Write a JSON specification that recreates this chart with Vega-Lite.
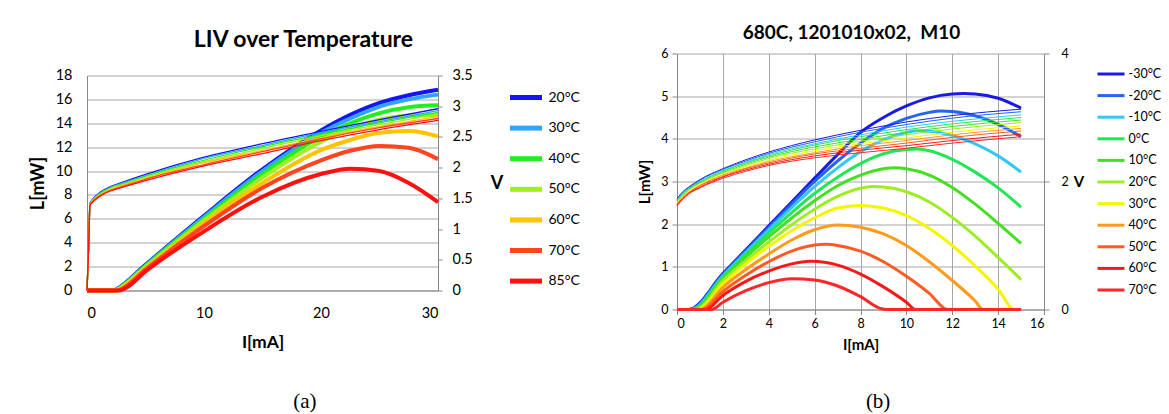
{
  "$schema": "https://vega.github.io/schema/vega-lite/v6.json",
  "background": "white",
  "padding": {"left": 29, "top": 23.5, "right": 0, "bottom": 0},
  "config": {
    "font": "Lato",
    "view": {"stroke": null},
    "axis": {"labelColor": "#000000", "titleColor": "#000000", "domainColor": "#868686", "tickColor": "#868686", "gridColor": "#A6A6A6", "labelFont": "Lato", "titleFont": "Lato"},
    "title": {"color": "#000000"}
  },
  "datasets": {
    "aL": [
      {"T":"20°C","I":0,"y":0},{"T":"20°C","I":2.3,"y":0},{"T":"20°C","I":2.6,"y":0.15},{"T":"20°C","I":5,"y":2.15},{"T":"20°C","I":10,"y":6.25},{"T":"20°C","I":15,"y":10.15},{"T":"20°C","I":20,"y":13.4},{"T":"20°C","I":22.5,"y":14.7},{"T":"20°C","I":25,"y":15.7},{"T":"20°C","I":27.5,"y":16.35},{"T":"20°C","I":30,"y":16.8},
      {"T":"30°C","I":0,"y":0},{"T":"30°C","I":2.35,"y":0},{"T":"30°C","I":2.65,"y":0.15},{"T":"30°C","I":5,"y":2.1},{"T":"30°C","I":10,"y":6.15},{"T":"30°C","I":15,"y":10.0},{"T":"30°C","I":20,"y":13.2},{"T":"30°C","I":22.5,"y":14.4},{"T":"30°C","I":25,"y":15.4},{"T":"30°C","I":27.5,"y":16.0},{"T":"30°C","I":30,"y":16.4},
      {"T":"40°C","I":0,"y":0},{"T":"40°C","I":2.4,"y":0},{"T":"40°C","I":2.7,"y":0.15},{"T":"40°C","I":5,"y":2.05},{"T":"40°C","I":10,"y":6.0},{"T":"40°C","I":15,"y":9.75},{"T":"40°C","I":20,"y":12.9},{"T":"40°C","I":22.5,"y":14.0},{"T":"40°C","I":25,"y":14.85},{"T":"40°C","I":27.5,"y":15.35},{"T":"40°C","I":30,"y":15.5},
      {"T":"50°C","I":0,"y":0},{"T":"50°C","I":2.45,"y":0},{"T":"50°C","I":2.75,"y":0.15},{"T":"50°C","I":5,"y":1.95},{"T":"50°C","I":10,"y":5.85},{"T":"50°C","I":15,"y":9.45},{"T":"50°C","I":20,"y":12.45},{"T":"50°C","I":22.5,"y":13.55},{"T":"50°C","I":25,"y":14.3},{"T":"50°C","I":27.5,"y":14.65},{"T":"50°C","I":30,"y":14.7},
      {"T":"60°C","I":0,"y":0},{"T":"60°C","I":2.5,"y":0},{"T":"60°C","I":2.85,"y":0.15},{"T":"60°C","I":5,"y":1.85},{"T":"60°C","I":10,"y":5.65},{"T":"60°C","I":15,"y":9.0},{"T":"60°C","I":20,"y":11.75},{"T":"60°C","I":22.5,"y":12.6},{"T":"60°C","I":25,"y":13.2},{"T":"60°C","I":27.5,"y":13.35},{"T":"60°C","I":30,"y":12.9},
      {"T":"70°C","I":0,"y":0},{"T":"70°C","I":2.6,"y":0},{"T":"70°C","I":3.0,"y":0.15},{"T":"70°C","I":5,"y":1.75},{"T":"70°C","I":10,"y":5.4},{"T":"70°C","I":15,"y":8.6},{"T":"70°C","I":20,"y":10.9},{"T":"70°C","I":22.5,"y":11.7},{"T":"70°C","I":25,"y":12.1},{"T":"70°C","I":27.5,"y":11.95},{"T":"70°C","I":30,"y":11.0},
      {"T":"85°C","I":0,"y":0},{"T":"85°C","I":2.7,"y":0},{"T":"85°C","I":3.2,"y":0.15},{"T":"85°C","I":5,"y":1.6},{"T":"85°C","I":10,"y":4.95},{"T":"85°C","I":15,"y":7.85},{"T":"85°C","I":20,"y":9.75},{"T":"85°C","I":22.5,"y":10.2},{"T":"85°C","I":25,"y":10.0},{"T":"85°C","I":27.5,"y":9.0},{"T":"85°C","I":30,"y":7.4}
    ],
    "aV": [
      {"T":"20°C","I":0,"y":0},{"T":"20°C","I":0.15,"y":0.75},{"T":"20°C","I":0.25,"y":1.42},{"T":"20°C","I":0.5,"y":1.49},{"T":"20°C","I":1,"y":1.58},{"T":"20°C","I":2,"y":1.69},{"T":"20°C","I":3,"y":1.76},{"T":"20°C","I":5,"y":1.89},{"T":"20°C","I":10,"y":2.17},{"T":"20°C","I":15,"y":2.39},{"T":"20°C","I":20,"y":2.59},{"T":"20°C","I":25,"y":2.78},{"T":"20°C","I":30,"y":2.96},
      {"T":"30°C","I":0,"y":0},{"T":"30°C","I":0.15,"y":0.75},{"T":"30°C","I":0.25,"y":1.41},{"T":"30°C","I":0.5,"y":1.48},{"T":"30°C","I":1,"y":1.57},{"T":"30°C","I":2,"y":1.68},{"T":"30°C","I":3,"y":1.75},{"T":"30°C","I":5,"y":1.87},{"T":"30°C","I":10,"y":2.15},{"T":"30°C","I":15,"y":2.36},{"T":"30°C","I":20,"y":2.57},{"T":"30°C","I":25,"y":2.75},{"T":"30°C","I":30,"y":2.93},
      {"T":"40°C","I":0,"y":0},{"T":"40°C","I":0.15,"y":0.75},{"T":"40°C","I":0.25,"y":1.41},{"T":"40°C","I":0.5,"y":1.47},{"T":"40°C","I":1,"y":1.56},{"T":"40°C","I":2,"y":1.67},{"T":"40°C","I":3,"y":1.73},{"T":"40°C","I":5,"y":1.86},{"T":"40°C","I":10,"y":2.12},{"T":"40°C","I":15,"y":2.34},{"T":"40°C","I":20,"y":2.54},{"T":"40°C","I":25,"y":2.73},{"T":"40°C","I":30,"y":2.90},
      {"T":"50°C","I":0,"y":0},{"T":"50°C","I":0.15,"y":0.75},{"T":"50°C","I":0.25,"y":1.40},{"T":"50°C","I":0.5,"y":1.47},{"T":"50°C","I":1,"y":1.55},{"T":"50°C","I":2,"y":1.66},{"T":"50°C","I":3,"y":1.72},{"T":"50°C","I":5,"y":1.84},{"T":"50°C","I":10,"y":2.10},{"T":"50°C","I":15,"y":2.31},{"T":"50°C","I":20,"y":2.52},{"T":"50°C","I":25,"y":2.70},{"T":"50°C","I":30,"y":2.87},
      {"T":"60°C","I":0,"y":0},{"T":"60°C","I":0.15,"y":0.75},{"T":"60°C","I":0.25,"y":1.39},{"T":"60°C","I":0.5,"y":1.46},{"T":"60°C","I":1,"y":1.54},{"T":"60°C","I":2,"y":1.64},{"T":"60°C","I":3,"y":1.71},{"T":"60°C","I":5,"y":1.82},{"T":"60°C","I":10,"y":2.08},{"T":"60°C","I":15,"y":2.28},{"T":"60°C","I":20,"y":2.49},{"T":"60°C","I":25,"y":2.67},{"T":"60°C","I":30,"y":2.83},
      {"T":"70°C","I":0,"y":0},{"T":"70°C","I":0.15,"y":0.75},{"T":"70°C","I":0.25,"y":1.39},{"T":"70°C","I":0.5,"y":1.45},{"T":"70°C","I":1,"y":1.53},{"T":"70°C","I":2,"y":1.63},{"T":"70°C","I":3,"y":1.69},{"T":"70°C","I":5,"y":1.81},{"T":"70°C","I":10,"y":2.05},{"T":"70°C","I":15,"y":2.26},{"T":"70°C","I":20,"y":2.47},{"T":"70°C","I":25,"y":2.65},{"T":"70°C","I":30,"y":2.80},
      {"T":"85°C","I":0,"y":0},{"T":"85°C","I":0.15,"y":0.75},{"T":"85°C","I":0.25,"y":1.38},{"T":"85°C","I":0.5,"y":1.44},{"T":"85°C","I":1,"y":1.52},{"T":"85°C","I":2,"y":1.62},{"T":"85°C","I":3,"y":1.68},{"T":"85°C","I":5,"y":1.79},{"T":"85°C","I":10,"y":2.03},{"T":"85°C","I":15,"y":2.23},{"T":"85°C","I":20,"y":2.44},{"T":"85°C","I":25,"y":2.62},{"T":"85°C","I":30,"y":2.77}
    ],
    "bL": [
      {"T":"-30°C","I":0,"y":0},{"T":"-30°C","I":0.5,"y":0},{"T":"-30°C","I":2,"y":0.84},{"T":"-30°C","I":4,"y":1.96},{"T":"-30°C","I":6,"y":3.08},{"T":"-30°C","I":7,"y":3.63},{"T":"-30°C","I":8,"y":4.15},{"T":"-30°C","I":9,"y":4.5},{"T":"-30°C","I":10,"y":4.77},{"T":"-30°C","I":11,"y":4.96},{"T":"-30°C","I":12,"y":5.05},{"T":"-30°C","I":12.5,"y":5.06},{"T":"-30°C","I":13,"y":5.05},{"T":"-30°C","I":14,"y":4.95},{"T":"-30°C","I":15,"y":4.72},
      {"T":"-20°C","I":0,"y":0},{"T":"-20°C","I":0.55,"y":0},{"T":"-20°C","I":2,"y":0.82},{"T":"-20°C","I":4,"y":1.92},{"T":"-20°C","I":6,"y":3.0},{"T":"-20°C","I":7,"y":3.48},{"T":"-20°C","I":8,"y":3.9},{"T":"-20°C","I":9,"y":4.25},{"T":"-20°C","I":10,"y":4.48},{"T":"-20°C","I":11,"y":4.62},{"T":"-20°C","I":11.5,"y":4.65},{"T":"-20°C","I":12,"y":4.64},{"T":"-20°C","I":13,"y":4.54},{"T":"-20°C","I":14,"y":4.34},{"T":"-20°C","I":15,"y":4.05},
      {"T":"-10°C","I":0,"y":0},{"T":"-10°C","I":0.6,"y":0},{"T":"-10°C","I":2,"y":0.79},{"T":"-10°C","I":4,"y":1.87},{"T":"-10°C","I":6,"y":2.88},{"T":"-10°C","I":7,"y":3.32},{"T":"-10°C","I":8,"y":3.7},{"T":"-10°C","I":9,"y":3.98},{"T":"-10°C","I":10,"y":4.15},{"T":"-10°C","I":10.5,"y":4.19},{"T":"-10°C","I":11,"y":4.18},{"T":"-10°C","I":12,"y":4.08},{"T":"-10°C","I":13,"y":3.88},{"T":"-10°C","I":14,"y":3.6},{"T":"-10°C","I":15,"y":3.22},
      {"T":"0°C","I":0,"y":0},{"T":"0°C","I":0.65,"y":0},{"T":"0°C","I":2,"y":0.76},{"T":"0°C","I":4,"y":1.79},{"T":"0°C","I":6,"y":2.72},{"T":"0°C","I":7,"y":3.1},{"T":"0°C","I":8,"y":3.42},{"T":"0°C","I":9,"y":3.65},{"T":"0°C","I":10,"y":3.75},{"T":"0°C","I":10.5,"y":3.76},{"T":"0°C","I":11,"y":3.72},{"T":"0°C","I":12,"y":3.52},{"T":"0°C","I":13,"y":3.22},{"T":"0°C","I":14,"y":2.85},{"T":"0°C","I":15,"y":2.4},
      {"T":"10°C","I":0,"y":0},{"T":"10°C","I":0.7,"y":0},{"T":"10°C","I":2,"y":0.72},{"T":"10°C","I":4,"y":1.7},{"T":"10°C","I":6,"y":2.55},{"T":"10°C","I":7,"y":2.9},{"T":"10°C","I":8,"y":3.15},{"T":"10°C","I":9,"y":3.3},{"T":"10°C","I":9.5,"y":3.32},{"T":"10°C","I":10,"y":3.3},{"T":"10°C","I":11,"y":3.15},{"T":"10°C","I":12,"y":2.86},{"T":"10°C","I":13,"y":2.47},{"T":"10°C","I":14,"y":2.02},{"T":"10°C","I":15,"y":1.55},
      {"T":"20°C","I":0,"y":0},{"T":"20°C","I":0.8,"y":0},{"T":"20°C","I":2,"y":0.67},{"T":"20°C","I":4,"y":1.58},{"T":"20°C","I":6,"y":2.35},{"T":"20°C","I":7,"y":2.65},{"T":"20°C","I":8,"y":2.84},{"T":"20°C","I":8.5,"y":2.88},{"T":"20°C","I":9,"y":2.87},{"T":"20°C","I":10,"y":2.76},{"T":"20°C","I":11,"y":2.52},{"T":"20°C","I":12,"y":2.16},{"T":"20°C","I":13,"y":1.72},{"T":"20°C","I":14,"y":1.22},{"T":"20°C","I":15,"y":0.7},
      {"T":"30°C","I":0,"y":0},{"T":"30°C","I":0.9,"y":0},{"T":"30°C","I":2,"y":0.6},{"T":"30°C","I":4,"y":1.48},{"T":"30°C","I":6,"y":2.15},{"T":"30°C","I":7,"y":2.38},{"T":"30°C","I":8,"y":2.44},{"T":"30°C","I":9,"y":2.38},{"T":"30°C","I":10,"y":2.2},{"T":"30°C","I":11,"y":1.9},{"T":"30°C","I":12,"y":1.5},{"T":"30°C","I":13,"y":1.02},{"T":"30°C","I":14,"y":0.48},{"T":"30°C","I":14.7,"y":0},{"T":"30°C","I":15,"y":0},
      {"T":"40°C","I":0,"y":0},{"T":"40°C","I":1.0,"y":0},{"T":"40°C","I":2,"y":0.52},{"T":"40°C","I":4,"y":1.3},{"T":"40°C","I":5,"y":1.63},{"T":"40°C","I":6,"y":1.87},{"T":"40°C","I":7,"y":1.98},{"T":"40°C","I":8,"y":1.93},{"T":"40°C","I":9,"y":1.77},{"T":"40°C","I":10,"y":1.5},{"T":"40°C","I":11,"y":1.12},{"T":"40°C","I":12,"y":0.68},{"T":"40°C","I":13,"y":0.2},{"T":"40°C","I":13.35,"y":0},{"T":"40°C","I":15,"y":0},
      {"T":"50°C","I":0,"y":0},{"T":"50°C","I":1.1,"y":0},{"T":"50°C","I":2,"y":0.42},{"T":"50°C","I":3,"y":0.8},{"T":"50°C","I":4,"y":1.12},{"T":"50°C","I":5,"y":1.37},{"T":"50°C","I":6,"y":1.51},{"T":"50°C","I":6.5,"y":1.53},{"T":"50°C","I":7,"y":1.5},{"T":"50°C","I":8,"y":1.37},{"T":"50°C","I":9,"y":1.12},{"T":"50°C","I":10,"y":0.78},{"T":"50°C","I":11,"y":0.38},{"T":"50°C","I":11.8,"y":0},{"T":"50°C","I":15,"y":0},
      {"T":"60°C","I":0,"y":0},{"T":"60°C","I":1.25,"y":0},{"T":"60°C","I":2,"y":0.33},{"T":"60°C","I":3,"y":0.66},{"T":"60°C","I":4,"y":0.9},{"T":"60°C","I":5,"y":1.07},{"T":"60°C","I":5.8,"y":1.13},{"T":"60°C","I":6.5,"y":1.1},{"T":"60°C","I":7,"y":1.04},{"T":"60°C","I":8,"y":0.83},{"T":"60°C","I":9,"y":0.53},{"T":"60°C","I":10,"y":0.17},{"T":"60°C","I":10.4,"y":0},{"T":"60°C","I":15,"y":0},
      {"T":"70°C","I":0,"y":0},{"T":"70°C","I":1.5,"y":0},{"T":"70°C","I":2,"y":0.17},{"T":"70°C","I":3,"y":0.44},{"T":"70°C","I":4,"y":0.63},{"T":"70°C","I":5,"y":0.72},{"T":"70°C","I":6,"y":0.69},{"T":"70°C","I":7,"y":0.55},{"T":"70°C","I":8,"y":0.3},{"T":"70°C","I":8.9,"y":0.02},{"T":"70°C","I":9.1,"y":0},{"T":"70°C","I":15,"y":0}
    ],
    "bV": [
      {"T":"-30°C","I":0,"y":1.73},{"T":"-30°C","I":0.25,"y":1.84},{"T":"-30°C","I":0.5,"y":1.91},{"T":"-30°C","I":1,"y":2.03},{"T":"-30°C","I":2,"y":2.20},{"T":"-30°C","I":3,"y":2.34},{"T":"-30°C","I":4,"y":2.46},{"T":"-30°C","I":6,"y":2.65},{"T":"-30°C","I":8,"y":2.80},{"T":"-30°C","I":10,"y":2.93},{"T":"-30°C","I":12,"y":3.03},{"T":"-30°C","I":15,"y":3.13},
      {"T":"-20°C","I":0,"y":1.72},{"T":"-20°C","I":0.25,"y":1.83},{"T":"-20°C","I":0.5,"y":1.90},{"T":"-20°C","I":1,"y":2.02},{"T":"-20°C","I":2,"y":2.19},{"T":"-20°C","I":3,"y":2.32},{"T":"-20°C","I":4,"y":2.44},{"T":"-20°C","I":6,"y":2.62},{"T":"-20°C","I":8,"y":2.77},{"T":"-20°C","I":10,"y":2.89},{"T":"-20°C","I":12,"y":2.99},{"T":"-20°C","I":15,"y":3.09},
      {"T":"-10°C","I":0,"y":1.71},{"T":"-10°C","I":0.25,"y":1.82},{"T":"-10°C","I":0.5,"y":1.89},{"T":"-10°C","I":1,"y":2.00},{"T":"-10°C","I":2,"y":2.17},{"T":"-10°C","I":3,"y":2.30},{"T":"-10°C","I":4,"y":2.42},{"T":"-10°C","I":6,"y":2.59},{"T":"-10°C","I":8,"y":2.73},{"T":"-10°C","I":10,"y":2.85},{"T":"-10°C","I":12,"y":2.94},{"T":"-10°C","I":15,"y":3.04},
      {"T":"0°C","I":0,"y":1.70},{"T":"0°C","I":0.25,"y":1.80},{"T":"0°C","I":0.5,"y":1.88},{"T":"0°C","I":1,"y":1.99},{"T":"0°C","I":2,"y":2.16},{"T":"0°C","I":3,"y":2.29},{"T":"0°C","I":4,"y":2.40},{"T":"0°C","I":6,"y":2.57},{"T":"0°C","I":8,"y":2.70},{"T":"0°C","I":10,"y":2.81},{"T":"0°C","I":12,"y":2.90},{"T":"0°C","I":15,"y":3.00},
      {"T":"10°C","I":0,"y":1.69},{"T":"10°C","I":0.25,"y":1.79},{"T":"10°C","I":0.5,"y":1.87},{"T":"10°C","I":1,"y":1.98},{"T":"10°C","I":2,"y":2.14},{"T":"10°C","I":3,"y":2.27},{"T":"10°C","I":4,"y":2.38},{"T":"10°C","I":6,"y":2.54},{"T":"10°C","I":8,"y":2.66},{"T":"10°C","I":10,"y":2.77},{"T":"10°C","I":12,"y":2.86},{"T":"10°C","I":15,"y":2.96},
      {"T":"20°C","I":0,"y":1.68},{"T":"20°C","I":0.25,"y":1.78},{"T":"20°C","I":0.5,"y":1.86},{"T":"20°C","I":1,"y":1.97},{"T":"20°C","I":2,"y":2.13},{"T":"20°C","I":3,"y":2.25},{"T":"20°C","I":4,"y":2.36},{"T":"20°C","I":6,"y":2.51},{"T":"20°C","I":8,"y":2.63},{"T":"20°C","I":10,"y":2.73},{"T":"20°C","I":12,"y":2.82},{"T":"20°C","I":15,"y":2.92},
      {"T":"30°C","I":0,"y":1.66},{"T":"30°C","I":0.25,"y":1.77},{"T":"30°C","I":0.5,"y":1.84},{"T":"30°C","I":1,"y":1.95},{"T":"30°C","I":2,"y":2.11},{"T":"30°C","I":3,"y":2.23},{"T":"30°C","I":4,"y":2.33},{"T":"30°C","I":6,"y":2.48},{"T":"30°C","I":8,"y":2.59},{"T":"30°C","I":10,"y":2.68},{"T":"30°C","I":12,"y":2.77},{"T":"30°C","I":15,"y":2.87},
      {"T":"40°C","I":0,"y":1.65},{"T":"40°C","I":0.25,"y":1.76},{"T":"40°C","I":0.5,"y":1.83},{"T":"40°C","I":1,"y":1.94},{"T":"40°C","I":2,"y":2.10},{"T":"40°C","I":3,"y":2.21},{"T":"40°C","I":4,"y":2.31},{"T":"40°C","I":6,"y":2.45},{"T":"40°C","I":8,"y":2.56},{"T":"40°C","I":10,"y":2.64},{"T":"40°C","I":12,"y":2.73},{"T":"40°C","I":15,"y":2.83},
      {"T":"50°C","I":0,"y":1.64},{"T":"50°C","I":0.25,"y":1.74},{"T":"50°C","I":0.5,"y":1.82},{"T":"50°C","I":1,"y":1.93},{"T":"50°C","I":2,"y":2.08},{"T":"50°C","I":3,"y":2.20},{"T":"50°C","I":4,"y":2.29},{"T":"50°C","I":6,"y":2.43},{"T":"50°C","I":8,"y":2.52},{"T":"50°C","I":10,"y":2.60},{"T":"50°C","I":12,"y":2.69},{"T":"50°C","I":15,"y":2.79},
      {"T":"60°C","I":0,"y":1.63},{"T":"60°C","I":0.25,"y":1.73},{"T":"60°C","I":0.5,"y":1.81},{"T":"60°C","I":1,"y":1.91},{"T":"60°C","I":2,"y":2.07},{"T":"60°C","I":3,"y":2.18},{"T":"60°C","I":4,"y":2.27},{"T":"60°C","I":6,"y":2.40},{"T":"60°C","I":8,"y":2.49},{"T":"60°C","I":10,"y":2.56},{"T":"60°C","I":12,"y":2.64},{"T":"60°C","I":15,"y":2.74},
      {"T":"70°C","I":0,"y":1.62},{"T":"70°C","I":0.25,"y":1.72},{"T":"70°C","I":0.5,"y":1.80},{"T":"70°C","I":1,"y":1.90},{"T":"70°C","I":2,"y":2.05},{"T":"70°C","I":3,"y":2.16},{"T":"70°C","I":4,"y":2.25},{"T":"70°C","I":6,"y":2.37},{"T":"70°C","I":8,"y":2.45},{"T":"70°C","I":10,"y":2.52},{"T":"70°C","I":12,"y":2.60},{"T":"70°C","I":15,"y":2.70}
    ]
  },
  "spacing": 56,
  "hconcat": [
    {
      "title": {"text": "(a)", "orient": "bottom", "anchor": "middle", "font": "Liberation Serif", "fontSize": 21, "fontWeight": "normal", "offset": 40},
      "vconcat": [
        {
          "width": 351,
          "height": 237,
          "title": {"text": "LIV over Temperature", "fontSize": 23, "fontWeight": "bold", "anchor": "middle", "dx": 41, "offset": 1.5},
          "encoding": {
            "x": {"field": "I", "type": "quantitative", "scale": {"domain": [0, 30], "nice": false},
                  "axis": {"values": [0, 10, 20, 30], "grid": false, "ticks": false, "labelPadding": 16, "labelFontSize": 14.5, "title": "I[mA]", "titleFontSize": 17.5, "titleFontWeight": "bold", "titlePadding": 13}}
          },
          "layer": [
            {
              "data": {"name": "aL"},
              "mark": {"type": "line", "strokeWidth": 4, "interpolate": "monotone"},
              "encoding": {
                "y": {"field": "y", "type": "quantitative", "scale": {"domain": [0, 18], "nice": false, "range": [237, 22]},
                      "axis": {"values": [0, 2, 4, 6, 8, 10, 12, 14, 16, 18], "grid": true, "ticks": false, "labelPadding": 15, "labelFontSize": 14.5, "title": "L[mW]", "titleFontSize": 18, "titleFontWeight": "bold", "titlePadding": 8}},
                "color": {"field": "T", "type": "nominal",
                          "scale": {"domain": ["20°C", "30°C", "40°C", "50°C", "60°C", "70°C", "85°C"], "range": ["#1414F5", "#30A4FF", "#22EE22", "#9EF020", "#FFC400", "#FF4420", "#FF1010"]},
                          "legend": {"orient": "none", "legendX": 428.5, "legendY": 33.5, "title": null, "symbolType": "M-2,0H2", "symbolSize": 256, "symbolStrokeWidth": 5, "labelFontSize": 14, "labelColor": "#000000", "rowPadding": 9.6, "labelOffset": 12}}
              }
            },
            {
              "data": {"name": "aV"},
              "mark": {"type": "line", "strokeWidth": 1.3, "interpolate": "monotone"},
              "encoding": {
                "y": {"field": "y", "type": "quantitative", "scale": {"domain": [0, 3.5], "nice": false, "range": [237, 22]},
                      "axis": {"orient": "right", "values": [0, 0.5, 1, 1.5, 2, 2.5, 3, 3.5], "format": "~g", "grid": false, "ticks": true, "tickSize": 4, "labelPadding": 10, "labelFontSize": 14.5, "title": "V", "titleAngle": 0, "titleAlign": "left", "titleBaseline": "middle", "titleFontSize": 18, "titleFontWeight": "bold", "titlePadding": 18}},
                "color": {"field": "T", "type": "nominal"}
              }
            }
          ],
          "resolve": {"scale": {"y": "independent"}}
        }
      ]
    },
    {
      "title": {"text": "(b)", "orient": "bottom", "anchor": "middle", "font": "Liberation Serif", "fontSize": 21, "fontWeight": "normal", "offset": 39, "dx": -21.5},
      "vconcat": [
        {
          "width": 367,
          "height": 256,
          "title": {"text": "680C, 1201010x02,\u00a0 M10", "fontSize": 19, "fontWeight": "bold", "anchor": "middle", "dx": -9, "offset": 5},
          "encoding": {
            "x": {"field": "I", "type": "quantitative", "scale": {"domain": [0, 16], "nice": false},
                  "axis": {"values": [0, 2, 4, 6, 8, 10, 12, 14, 16], "grid": true, "ticks": true, "tickSize": 5, "labelPadding": 3, "labelFontSize": 12.5, "title": "I[mA]", "titleFontSize": 15, "titleFontWeight": "bold", "titlePadding": 7}}
          },
          "layer": [
            {
              "data": {"name": "bL"},
              "mark": {"type": "line", "strokeWidth": 3, "interpolate": "monotone"},
              "encoding": {
                "y": {"field": "y", "type": "quantitative", "scale": {"domain": [0, 6], "nice": false},
                      "axis": {"values": [0, 1, 2, 3, 4, 5, 6], "grid": true, "ticks": true, "tickSize": 5, "labelPadding": 4, "labelFontSize": 12.5, "title": "L[mW]", "titleFontSize": 15, "titleFontWeight": "bold", "titlePadding": 8}},
                "color": {"field": "T", "type": "nominal",
                          "scale": {"domain": ["-30°C", "-20°C", "-10°C", "0°C", "10°C", "20°C", "30°C", "40°C", "50°C", "60°C", "70°C"], "range": ["#1A1AE6", "#2266EE", "#33C8F5", "#22E655", "#44E020", "#9CEE22", "#F5F500", "#FF9A1A", "#FF5A22", "#F51A1A", "#FF2626"]},
                          "legend": {"orient": "none", "legendX": 425.5, "legendY": 12, "title": null, "symbolType": "M-2,0H2", "symbolSize": 182, "symbolStrokeWidth": 3, "labelFontSize": 12.5, "labelColor": "#000000", "rowPadding": 6.6, "labelOffset": 9}}
              }
            },
            {
              "data": {"name": "bV"},
              "mark": {"type": "line", "strokeWidth": 1, "interpolate": "monotone"},
              "encoding": {
                "y": {"field": "y", "type": "quantitative", "scale": {"domain": [0, 4], "nice": false},
                      "axis": {"orient": "right", "values": [0, 2, 4], "grid": false, "ticks": true, "tickSize": 5, "labelPadding": 12, "labelFontSize": 12.5, "title": "V", "titleAngle": 0, "titleAlign": "left", "titleBaseline": "middle", "titleFontSize": 15, "titleFontWeight": "bold", "titlePadding": 5}},
                "color": {"field": "T", "type": "nominal"}
              }
            }
          ],
          "resolve": {"scale": {"y": "independent"}}
        }
      ]
    }
  ],
  "resolve": {"scale": {"color": "independent"}, "legend": {"color": "independent"}}
}
